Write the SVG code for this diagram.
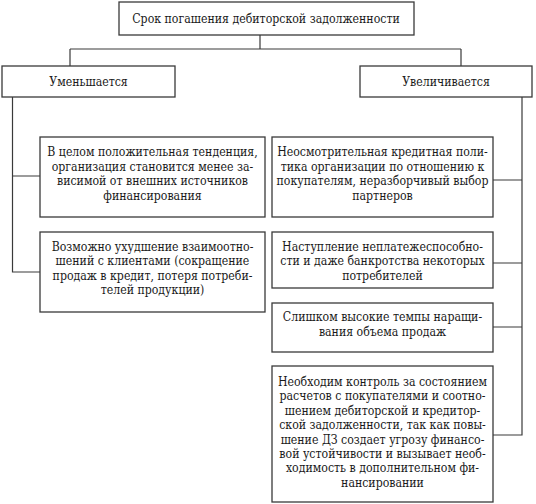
<svg xmlns="http://www.w3.org/2000/svg" width="536" height="504" viewBox="0 0 536 504">
<style>
.box{fill:#fff;stroke:#3a3a3a;stroke-width:1.3}
.ln{fill:none;stroke:#3a3a3a;stroke-width:1.2}
.t{font-family:'DejaVu Serif Condensed','DejaVu Serif',serif;font-size:12.2px;fill:#1a1a1a;text-anchor:middle}
</style>
<rect width="536" height="504" fill="#fff"/>
<g id="connectors">
<path class="ln" d="M260,35V49M70,49H461M70,49V66M461,49V66"/>
<path class="ln" d="M12.5,97V272H40M12.5,176H40"/>
<path class="ln" d="M522,97V435H493M522,180H493M522,263H493M522,327H493"/>
</g>
<g class="t">
<g id="root">
<rect class="box" x="119" y="2" width="295" height="33"/>
<text x="266" y="23">Срок погашения дебиторской задолженности</text>
</g>
<g id="decrease">
<rect class="box" x="2" y="66" width="173" height="31"/>
<text x="88.5" y="86">Уменьшается</text>
</g>
<g id="increase">
<rect class="box" x="360" y="66" width="172" height="31"/>
<text x="446" y="86">Увеличивается</text>
</g>
<g id="d1">
<rect class="box" x="40" y="137" width="225" height="80"/>
<text x="152.5" y="156">В целом положительная тенденция,</text>
<text x="152.5" y="170.5">организация становится менее за-</text>
<text x="152.5" y="185">висимой от внешних источников</text>
<text x="152.5" y="199.5">финансирования</text>
</g>
<g id="d2">
<rect class="box" x="40" y="232" width="225" height="80"/>
<text x="152.5" y="250.5">Возможно ухудшение взаимоотно-</text>
<text x="152.5" y="265">шений с клиентами (сокращение</text>
<text x="152.5" y="279.5">продаж в кредит, потеря потреби-</text>
<text x="152.5" y="294">телей продукции)</text>
</g>
<g id="i1">
<rect class="box" x="272" y="137" width="221" height="80"/>
<text x="382.5" y="156">Неосмотрительная кредитная поли-</text>
<text x="382.5" y="170.5">тика организации по отношению к</text>
<text x="382.5" y="185">покупателям, неразборчивый выбор</text>
<text x="382.5" y="199.5">партнеров</text>
</g>
<g id="i2">
<rect class="box" x="272" y="232" width="221" height="56"/>
<text x="382.5" y="250.5">Наступление неплатежеспособно-</text>
<text x="382.5" y="265">сти и даже банкротства некоторых</text>
<text x="382.5" y="279.5">потребителей</text>
</g>
<g id="i3">
<rect class="box" x="272" y="303" width="221" height="49"/>
<text x="382.5" y="321">Слишком высокие темпы наращи-</text>
<text x="382.5" y="336">вания объема продаж</text>
</g>
<g id="i4">
<rect class="box" x="272" y="366" width="221" height="136"/>
<text x="382.5" y="386">Необходим контроль за состоянием</text>
<text x="382.5" y="400.4">расчетов с покупателями и соотно-</text>
<text x="382.5" y="414.8">шением дебиторской и кредитор-</text>
<text x="382.5" y="429.2">ской задолженности, так как повы-</text>
<text x="382.5" y="443.6">шение ДЗ создает угрозу финансо-</text>
<text x="382.5" y="458">вой устойчивости и вызывает необ-</text>
<text x="382.5" y="472.4">ходимость в дополнительном фи-</text>
<text x="382.5" y="486.8">нансировании</text>
</g>
</g>
</svg>
